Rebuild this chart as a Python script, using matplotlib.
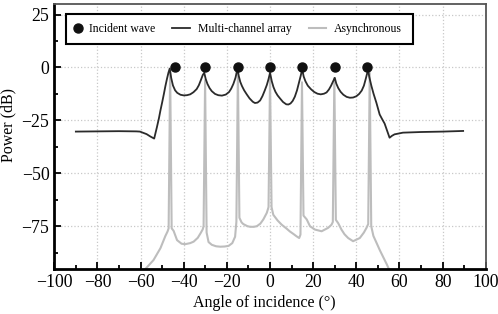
import matplotlib
matplotlib.use("Agg")
import matplotlib.pyplot as plt
from matplotlib.ticker import MultipleLocator
from matplotlib.legend_handler import HandlerLine2D
from matplotlib.patches import Rectangle
from matplotlib.lines import Line2D

plt.rcParams['font.family'] = ['Liberation Serif', 'DejaVu Serif']

# ---- data ----
incident_angle = [-44, -30, -15, 0, 15, 30, 45]
incident_power = [0, 0, 0, 0, 0, 0, 0]

mc_angle = [-90, -80, -70, -62, -60.3, -57.2, -55.5, -53.7, -52.5, -51.5, -50.8, -50, -49.2,
            -48.5, -47.8, -47.1, -46.5,
            -45.8, -45, -44, -43, -41.5, -40, -38.5, -37, -35.5, -34, -33, -32, -31.2, -30.5,
            -29.8, -29, -28, -27, -25.5, -24, -22.3, -20.5, -19, -18, -17, -16, -15.1,
            -14.5, -13.8, -13, -12, -10.8, -9.5, -8, -7, -5.8, -4.6, -3.5, -2.5, -1.5, -0.7, 0,
            0.8, 1.6, 2.5, 3.5, 4.6, 6, 7.5, 8.5, 9.5, 10.5, 11.5, 12.5, 13.4, 14.2, 14.9,
            15.6, 16.4, 17.5, 19, 20.5, 22, 23.5, 25, 26.2, 27.3, 28.3, 29.2, 30,
            30.7, 31.6, 32.7, 34, 35.5, 37, 38.5, 40, 41.3, 42.5, 43.5, 44.3, 45, 45.4,
            46, 47, 48, 49.3, 50.8, 52, 53.1, 54.3, 55.4, 56.5, 57.7, 61.6, 70, 80, 89.5]
mc_power = [-30.3, -30.2, -30.1, -30.2, -30.3, -31.5, -32.6, -33.6, -28.5, -24, -20.3, -16.5, -12.5,
            -8.8, -5.5, -2.5, -0.5,
            -5, -8.5, -10.8, -12, -12.9, -13.2, -13.1, -12.7, -11.7, -10.2, -8.4, -5.8, -3.6, -2.5,
            -5.5, -7.8, -9.8, -11.2, -12.5, -13.1, -13.3, -12.8, -11.6, -10, -7.8, -4.8, -0.5,
            -4, -6.8, -8.8, -10.8, -12.7, -14.6, -16.2, -16.8, -16.6, -15.6, -13.5, -11, -8.3, -5.5, -2.5,
            -6.5, -9.3, -11.5, -13.2, -14.6, -16.3, -17.4, -17.5, -17, -15.8, -13.8, -10.8, -7.2, -4, -0.9,
            -4.3, -6.5, -8.6, -10.3, -11.6, -12.4, -12.7, -12.4, -11.8, -10.4, -8.6, -6.6, -4.9,
            -7.6, -9.7, -11.5, -12.9, -13.9, -14.3, -14.2, -13.6, -12.5, -10.9, -8.6, -5.6, -2.8, -0.9,
            -4.5, -8.8, -12.5, -16.7, -22.2, -24.5, -26.5, -30, -33.2, -32.3, -31.6, -30.8, -30.5, -30.3, -30.0]

as_angle = [-58, -54, -50.8, -48.5, -47.5, -47.0, -46.3, -45.6, -44.7, -43.1, -41, -39.3,
            -37, -35.4, -33.5, -32.3, -31.2, -30.8, -30.1, -29.4, -28.5, -27, -25, -23,
            -21, -19.2, -17.5, -16.2, -15.6, -14.9, -14.2, -13.2, -12.4, -10.5, -9.2,
            -7.5, -6.1, -4.5, -3.1, -1.5, -0.7, 0, 0.7, 1.5, 3.5, 5.4, 7.5, 9.2, 11,
            12.3, 13.5, 14.1, 14.8, 15.5, 17, 18.5, 20.8, 23.9, 26.9, 28.5, 29.1, 29.8,
            30.5, 31.6, 33.1, 34.5, 36.2, 38.5, 41.6, 43.5, 44.7, 45.5, 46.2, 46.9,
            47.9, 49.5, 51, 54.1, 55.2]
as_power = [-95.5, -91, -85.4, -79.6, -77.5, -76, -1, -76, -77.2, -81.6, -83.3, -83.5,
            -83, -82.3, -80.5, -78.5, -76.5, -75, -6, -78, -82.5, -83.8, -84.5, -84.7,
            -84.6, -84.3, -83, -80, -73, -1.5, -71, -73.2, -74, -75, -75.3,
            -75.3, -75, -73.8, -71.8, -68.7, -66, -5, -66, -69.6, -72.3, -74.3, -76, -77.5, -78.8,
            -79.8, -80.6, -79, -7, -70, -71.8, -75, -76.6, -77.4, -75.8, -74.3, -73, -5,
            -72, -73.6, -76.6, -78.8, -80.6, -82.1, -80.6, -78, -75.8, -74, -2.5, -75,
            -79.6, -83.2, -86.6, -93, -95.5]

x_ticks = [-100, -80, -60, -40, -20, 0, 20, 40, 60, 80, 100]
y_ticks = [-75, -50, -25, 0, 25]
legend_labels = ['Incident wave', 'Multi-channel array', 'Asynchronous']


class LeftMarkerHandler(HandlerLine2D):
    def create_artists(self, legend, orig_handle, xdescent, ydescent, width, height,
                       fontsize, trans):
        arts = super().create_artists(legend, orig_handle, xdescent, ydescent, width,
                                      height, fontsize, trans)
        for a in arts:
            if isinstance(a, Line2D) and a.get_marker() not in (None, 'None', ''):
                a.set_xdata([x + 4.0 for x in a.get_xdata()])
        return arts


fig = plt.figure(figsize=(4.98, 3.14), dpi=100)
ax = fig.add_axes([0.1090, 0.1449, 0.8665, 0.8424])

gray = '#bdbdbd'
dark = '#2b2b2b'
l_as, = ax.plot(as_angle, as_power, color=gray, lw=1.5, zorder=2, label=legend_labels[2])
l_mc, = ax.plot(mc_angle, mc_power, color=dark, lw=1.3, zorder=3, label=legend_labels[1])
l_in, = ax.plot(incident_angle, incident_power, 'o', color='#111111', ms=6.5, zorder=4,
                label=legend_labels[0], clip_on=False)

ax.set_xlim(-100, 100)
ax.set_ylim(-95, 30)
ax.set_xticks(x_ticks)
ax.set_yticks(y_ticks)
ax.xaxis.set_minor_locator(MultipleLocator(10))
ax.yaxis.set_minor_locator(MultipleLocator(12.5))
ax.tick_params(which='both', direction='in', top=False, right=False, labelsize=12.8,
               colors='black', width=1.3)
ax.tick_params(which='major', length=5)
ax.tick_params(which='minor', length=3)
ax.tick_params(axis='x', pad=4)
ax.grid(True, which='major', linestyle=':', color='#c8c8c8', lw=0.9)

for s in ['left', 'bottom']:
    ax.spines[s].set_linewidth(2.0)
    ax.spines[s].set_color('black')
for s in ['top', 'right']:
    ax.spines[s].set_linewidth(1.3)
    ax.spines[s].set_color('#555555')

ax.set_xlabel('Angle of incidence (°)', fontsize=11.5)
ax.set_ylabel('Power (dB)', fontsize=11.5)
ax.xaxis.set_label_coords(0.4871, -0.100)
ax.yaxis.set_label_coords(-0.0888, 0.5425)

# legend frame
rect = Rectangle((0.0264, 0.8488), 0.8049, 0.1134, transform=ax.transAxes,
                 facecolor='white', edgecolor='black', lw=1.5, zorder=5)
ax.add_patch(rect)
leg = ax.legend(handles=[l_in, l_mc, l_as], loc='center left',
                bbox_to_anchor=(0.0216, 0.9055), ncol=3, fontsize=8.5, frameon=False,
                handlelength=1.5, handletextpad=0.65, columnspacing=1.45, borderpad=0,
                borderaxespad=0, handler_map={l_in: LeftMarkerHandler()})
leg.set_zorder(6)

fig.savefig('out.png', dpi=100)
